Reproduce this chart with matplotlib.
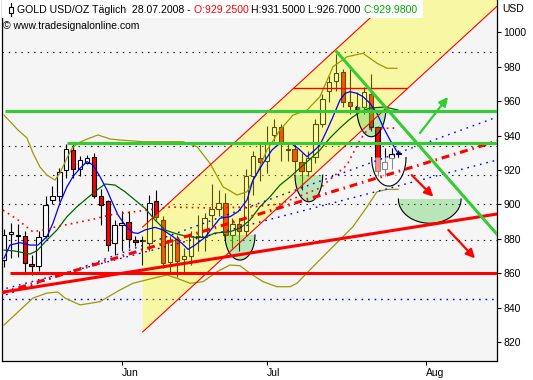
import numpy as np
import matplotlib.pyplot as plt
from matplotlib.patches import Rectangle, Polygon
from matplotlib.lines import Line2D

plt.rcParams['font.family'] = ['Liberation Sans', 'DejaVu Sans']

# daily OHLC, 08.05.2008 .. 28.07.2008 (bar index 0..57)
opens = [867.7, 882.5, 882.3, 881.3, 865.4, 864.0, 881.4, 902.8, 904.7, 920.0,
         931.6, 920.3, 924.2, 927.5, 904.7, 901.8, 877.4, 887.8, 889.7, 879.4,
         878.5, 877.4, 902.2, 891.1, 866.7, 880.0, 868.3, 870.2, 881.4, 880.8,
         893.5, 897.5, 900.8, 882.3, 888.5, 884.3, 916.4, 927.1, 925.2, 940.4,
         944.7, 932.2, 932.0, 924.8, 919.3, 927.5, 946.6, 966.1, 971.9, 976.8,
         959.3, 956.3, 956.3, 964.2, 945.1, 920.3, 926.7, 929.25]
highs = [885.4, 889.0, 888.5, 884.3, 870.8, 884.3, 904.7, 910.6, 921.3, 935.0,
         935.0, 928.0, 928.7, 930.0, 908.8, 902.8, 891.0, 896.4, 896.4, 881.4,
         881.4, 905.7, 908.6, 893.0, 881.4, 882.3, 874.5, 884.3, 894.0, 895.0,
         911.6, 908.6, 906.7, 892.0, 892.0, 920.3, 931.0, 935.9, 945.6, 949.6,
         946.6, 935.0, 936.0, 930.0, 931.0, 949.6, 964.2, 974.9, 987.5, 978.8,
         978.8, 965.1, 968.0, 975.9, 945.6, 933.0, 933.0, 931.5]
lows = [863.8, 868.8, 869.6, 859.7, 859.0, 861.0, 880.4, 900.0, 901.8, 915.4,
        915.4, 916.4, 923.3, 903.7, 888.2, 872.6, 870.5, 872.6, 874.5, 875.5,
        864.8, 872.6, 891.1, 862.8, 860.0, 858.0, 860.0, 864.8, 872.6, 872.6,
        887.2, 893.0, 879.4, 874.5, 872.6, 881.4, 905.7, 913.5, 918.4, 936.9,
        925.2, 925.2, 918.4, 908.6, 916.4, 924.2, 944.7, 959.3, 966.1, 956.3,
        952.5, 953.4, 952.5, 942.7, 916.4, 916.4, 920.3, 926.7]
closes = [882.3, 883.7, 881.7, 865.6, 864.0, 881.0, 899.5, 904.6, 918.8, 932.0,
          920.7, 925.6, 927.1, 904.7, 899.5, 876.5, 887.8, 889.1, 880.0, 878.3,
          879.0, 900.8, 892.5, 865.8, 879.4, 867.2, 870.0, 881.4, 880.8, 892.0,
          897.5, 900.8, 882.3, 888.8, 884.7, 916.4, 928.0, 924.8, 935.3, 945.1,
          935.9, 931.4, 925.2, 919.3, 927.1, 946.6, 961.2, 971.0, 976.2, 959.3,
          957.3, 955.7, 965.1, 944.7, 919.3, 924.8, 929.1, 929.98]

month_ticks = [17, 38, 61]
month_labels = ['Jun', 'Jul', 'Aug']
price_ticks = [820, 840, 860, 880, 900, 920, 940, 960, 980, 1000]

# short moving average (blue)
ma_short_x = [0, 0.87, 2.31, 3.76, 4.91, 6.21, 7.08, 8.09, 9.10, 9.97,
              10.98, 11.99, 12.86, 13.87, 14.88, 15.61, 16.47, 17.49, 18.64, 19.36,
              20.38, 21.82, 22.98, 24.28, 25.72, 26.59, 27.60, 29.05, 30.06, 31.21,
              32.66, 33.82, 35.12, 35.98, 37.43, 38.73, 39.88, 41.33, 42.49, 43.79,
              44.65, 45.66, 46.68, 47.54, 48.55, 49.28, 50.00, 51.01, 51.88, 52.89,
              53.90, 54.77, 55.78, 56.65, 56.94]
ma_short = [868.6, 876.3, 877.7, 876.3, 876.3, 881.2, 889.1, 900.8, 910.2, 916.1,
            920.9, 924.8, 922.9, 916.1, 908.3, 901.5, 893.8, 888.0, 883.5, 883.1,
            885.1, 886.6, 885.1, 881.6, 877.3, 873.8, 876.3, 880.8, 886.1, 891.9,
            892.8, 895.7, 902.5, 914.1, 923.8, 931.6, 935.5, 935.8, 932.6, 927.7,
            930.6, 934.5, 943.2, 950.9, 960.6, 964.5, 965.5, 964.5, 962.6, 958.7,
            952.9, 945.1, 937.4, 931.6, 929.8]

# longer moving average (dark green)
ma_long_x = [0, 1.30, 2.75, 3.76, 4.77, 6.21, 7.66, 9.10, 10.55, 11.99,
             13.44, 14.60, 16.04, 17.49, 18.93, 20.38, 21.82, 23.27, 24.71, 26.16,
             27.60, 29.05, 30.49, 32.66, 34.10, 35.55, 36.99, 38.44, 39.88, 41.33,
             42.77, 44.22, 45.66, 47.11, 48.55, 50.00, 51.45, 52.89, 55.06, 56.94]
ma_long = [873.4, 873.0, 871.9, 871.1, 873.0, 879.3, 885.1, 892.8, 898.6, 903.5,
           908.3, 911.8, 911.2, 907.3, 902.5, 897.7, 890.9, 885.1, 883.1, 881.6,
           880.8, 880.8, 883.3, 884.1, 886.1, 890.9, 898.6, 904.4, 911.2, 915.9,
           921.1, 926.3, 931.6, 938.6, 944.4, 949.6, 953.7, 956.0, 956.6, 954.8]

# bands (olive)
band_up_x = [0, 2.02, 3.32, 4.19, 5.20, 6.21, 7.37, 8.09, 9.10, 9.83,
             10.98, 12.43, 13.58, 15.32, 16.76, 20.09, 25.87, 27.89, 29.77, 31.65,
             33.67, 35.12, 36.56, 38.01, 39.88, 41.76, 43.79, 45.66, 47.54, 49.57,
             51.88, 53.90, 55.35, 56.79]
band_up = [951.9, 943.2, 938.6, 929.8, 921.7, 917.0, 914.1, 918.2, 926.9, 932.7,
           936.2, 938.6, 940.3, 938.0, 937.4, 936.4, 936.4, 933.5, 923.8, 910.2,
           905.4, 907.3, 918.0, 931.6, 943.2, 951.9, 954.8, 962.6, 980.0, 985.8,
           987.8, 982.0, 979.1, 979.1]
band_lo_x = [0, 2.31, 4.19, 6.21, 7.80, 8.82, 10.98, 13.87, 16.76, 18.64,
             21.53, 23.55, 25.00, 26.88, 28.76, 30.78, 32.66, 34.10, 35.55, 37.43,
             39.45, 41.33, 42.34, 44.65, 47.54, 50.43, 52.46, 53.90, 55.35, 56.94]
band_lo = [829.8, 838.5, 845.5, 848.4, 849.0, 845.5, 841.5, 843.4, 850.2, 854.1,
           857.0, 858.9, 857.0, 854.1, 855.0, 860.8, 864.7, 864.3, 859.9, 855.0,
           852.1, 852.1, 854.1, 863.7, 875.4, 887.0, 898.6, 907.3, 908.7, 908.7]

# thin red dotted line
red_dot_x = [-0.14, 2.02, 4.19, 8.09, 12.43, 15.32, 19.65, 23.99, 29.77, 35.55,
             39.88, 45.66, 49.57, 51.45, 52.60, 56.79]
red_dot = [896.7, 890.9, 883.9, 887.4, 890.9, 893.8, 896.1, 898.4, 897.9, 898.4,
           900.2, 909.5, 922.9, 937.4, 943.8, 944.4]

# drawn objects
dotted_levels = [988.5, 934.0, 917.0, 900.0, 879.3]
blue_level = 844.9
chan_x = [20.04, 71.3]
chan_lower = [825.8, 1015.4]
chan_upper = [886.8, 1076.4]
green_levels = [(954.4, 0.14), (935.8, 9.1)]
red_level = (859.9, 0.87)
red_short = (967.4, 41.8, 58.2)
trend_x = [-0.58, 71.3]
red_trend = [848.7, 894.4]
red_dashdot = [848.1, 936.8]
blue_trend1 = [846.1, 950.8]
blue_trend2 = [850.2, 925.8]
green_down_x = [48.08, 71.3]
green_down = [988.7, 882.3]
# (center bar, top price, half width in bars, depth in USD, colour, alpha)
bowls = [(34.10, 882.2, 2.17, 14.6, '#3cc83c', 0.32),
         (44.05, 917.0, 2.00, 15.5, '#3cc83c', 0.32),
         (53.08, 956.7, 2.12, 17.4, '#3cc83c', 0.32),
         (55.61, 927.2, 2.48, 16.6, '#ffffff', 0.55),
         (61.52, 903.1, 4.53, 14.1, '#3cc83c', 0.32)]
arrows = [((60.12, 941.5), (64.16, 962.4), '#33cc33'),
          ((58.92, 917.0), (62.04, 904.4), '#ff0000'),
          ((64.21, 885.1), (68.06, 868.6), '#ff0000')]

W, H = 533, 380
fig = plt.figure(figsize=(W / 100, H / 100), dpi=100)
ax = fig.add_axes([1.7 / W, 19 / H, 495.3 / W, 361 / H])
ax.set_facecolor('#f5f5f5')
ax.set_xlim(-0.33, 71.24)
ax.set_ylim(808.9, 1018.8)

idx = np.arange(len(opens))
o = np.array(opens); c = np.array(closes)
up = c >= o
body_lo = np.minimum(o, c)
body_h = np.maximum(np.abs(c - o), 0.7)

for lv in dotted_levels:
    ax.axhline(lv, color='black', lw=0.8, ls=(0, (1.2, 4.5)), zorder=1)
ax.axhline(blue_level, color='#0000ff', lw=1.0, ls=(0, (1.2, 3.5)), zorder=1)

ax.vlines(idx, lows, highs, color='black', lw=0.8, zorder=2)
ax.bar(idx, body_h, bottom=body_lo, width=0.64,
       color=np.where(up, 'white', '#ff0000'), edgecolor='black', linewidth=0.8, zorder=2.5)

# yellow channel sits over the candles
ax.fill_between(chan_x, chan_lower, chan_upper, color='#ffff00', alpha=0.33, lw=0, zorder=3)
ax.plot(chan_x, chan_lower, color='#ff0000', lw=0.8, zorder=6)
ax.plot(chan_x, chan_upper, color='#ff0000', lw=0.8, zorder=6)

t = np.linspace(np.pi, 2 * np.pi, 60)
for cx, top, a, b, col, al in bowls:
    xs = cx + a * np.cos(t)
    ys = top + b * np.sin(t)
    ax.add_patch(Polygon(np.column_stack([xs, ys]), closed=True, facecolor=col,
                         alpha=al, edgecolor='none', zorder=4))
    ax.plot(xs, ys, color='black', lw=0.8, zorder=4.5)

ax.plot(band_up_x, band_up, color='#9a9a00', lw=0.9, zorder=5)
ax.plot(band_lo_x, band_lo, color='#9a9a00', lw=0.9, zorder=5)
ax.plot(ma_long_x, ma_long, color='#006400', lw=0.9, zorder=5)
ax.plot(ma_short_x, ma_short, color='#0000ff', lw=0.9, zorder=5)
ax.plot(red_dot_x, red_dot, color='#ff0000', lw=1.2, ls=(0, (1, 2.5)), zorder=5)

ax.plot(trend_x, blue_trend1, color='#0000ff', lw=1.0, ls=(0, (1.2, 3.5)), zorder=5)
ax.plot(trend_x, blue_trend2, color='#0000ff', lw=1.0, ls=(0, (1.2, 3.5)), zorder=5)
ax.plot(trend_x, red_dashdot, color='#ff0000', lw=2.2, ls=(0, (2.6, 1.6, 0.5, 1.6)), zorder=6)
ax.plot(trend_x, red_trend, color='#ff0000', lw=2.2, zorder=6)
ax.hlines(red_level[0], red_level[1], 71.3, color='#ff0000', lw=2.2, zorder=6)
ax.hlines(red_short[0], red_short[1], red_short[2], color='#ff0000', lw=1.0, zorder=6)
for lv, x0 in green_levels:
    ax.hlines(lv, x0, 71.3, color='#33cc33', lw=2.2, zorder=6)
ax.plot(green_down_x, green_down, color='#33cc33', lw=2.2, zorder=6)

for start, end, col in arrows:
    ax.annotate('', xy=end, xytext=start,
                arrowprops=dict(arrowstyle='-|>', color=col, lw=1.6,
                                mutation_scale=13, shrinkA=0, shrinkB=0), zorder=7)

# axes styling
ax.spines['top'].set_visible(False)
for s in ['left', 'right', 'bottom']:
    ax.spines[s].set_linewidth(0.9)
ax.yaxis.tick_right()
ax.set_yticks(price_ticks)
ax.set_yticklabels([str(v) for v in price_ticks])
ax.tick_params(axis='y', direction='out', length=3, width=0.8, labelsize=7.5, pad=1.5)
ax.set_xticks(month_ticks)
ax.set_xticklabels(month_labels)
ax.tick_params(axis='x', direction='out', length=3, width=0.8, labelsize=7.5, pad=2)
for lbl in ax.get_xticklabels():
    lbl.set_horizontalalignment('left')

# header: coloured pieces chained one after another
fig.add_artist(Rectangle((2 / W, 1 - 18 / H), 421 / W, 18 / H, transform=fig.transFigure,
                         facecolor='white', edgecolor='none', zorder=5))
fig.add_artist(Line2D([11 / W, 11 / W], [1 - 3 / H, 1 - 16 / H], color='black', lw=0.8, zorder=6))
fig.add_artist(Rectangle((9 / W, 1 - 13 / H), 4 / W, 6 / H, transform=fig.transFigure,
                         facecolor='white', edgecolor='black', lw=0.8, zorder=7))
header = [('GOLD USD/OZ Täglich  28.07.2008 - ', 'black'),
          ('O:929.2500 ', '#ff0000'),
          ('H:931.5000 L:926.7000 ', 'black'),
          ('C:929.9800', '#00aa00')]
renderer = fig.canvas.get_renderer()
x_px = 17.3
for s, col in header:
    txt = fig.text(x_px / W, 1 - 10 / H, s, fontsize=7.6, color=col, va='center', ha='left', zorder=8)
    x_px += txt.get_window_extent(renderer).width
fig.text(3.3 / W, 1 - 26 / H, '© www.tradesignalonline.com', fontsize=7.5, va='center', ha='left', zorder=8)
fig.text(502 / W, 1 - 9 / H, 'USD', fontsize=7.5, va='center', ha='left')

fig.savefig('out.png', dpi=100)
